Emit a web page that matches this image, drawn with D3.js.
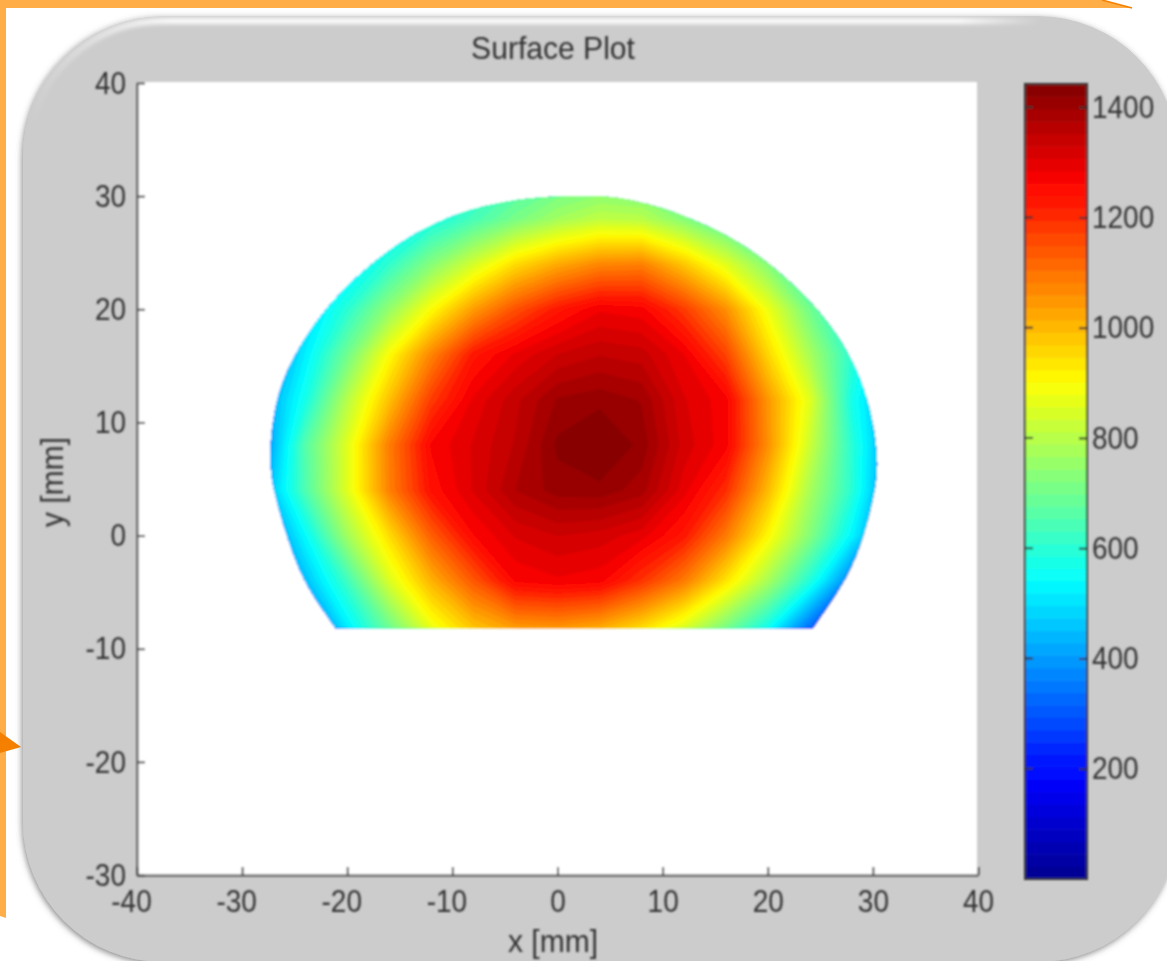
<!DOCTYPE html>
<html>
<head>
<meta charset="utf-8">
<script src="https://d3js.org/d3.v7.min.js"></script>
<style>
body { margin: 0; background: #fff; }
svg { display: block; }
text { font-family: "Liberation Sans", Arial, sans-serif; fill: #333; transform-box: fill-box; }
.tick text { font-size: 32px; transform: scaleX(.875); }
.x-axis text { transform-origin: center; }
.y-axis text { transform-origin: right center; }
.bar-axis text { transform-origin: left center; }
.title { font-size: 32px; transform: scaleX(.94); transform-origin: center; }
</style>
</head>
<body>
<div id="chart"></div>
<script>
// values, 4 mm apart
var gridX = [-32,-28,-24,-20,-16,-12,-8,-4,0,4,8,12,16,20,24,28,32];
var gridY = [32,28,24,20,16,12,8,4,0,-4,-8,-12];
var gridValues = [
  200,250,300,350,420,500,560,620,660,680,670,620,560,480,400,320,250,
  250,300,360,430,500,570,640,710,770,810,800,730,650,560,470,380,300,
  280,350,420,500,610,730,840,950,1020,1070,1080,980,860,730,600,480,360,
  220,340,480,600,750,900,1040,1150,1230,1280,1270,1180,1060,880,700,560,420,
  200,350,520,700,900,1075,1230,1290,1330,1350,1340,1285,1170,960,780,600,450,
  200,400,570,800,990,1180,1290,1345,1400,1412,1395,1310,1270,1050,860,570,400,
  150,370,660,860,1085,1265,1310,1355,1425,1450,1412,1320,1270,1060,830,600,380,
  150,420,650,860,1080,1245,1310,1375,1408,1412,1385,1295,1200,1000,780,600,350,
  150,350,540,770,950,1130,1260,1310,1330,1320,1295,1230,1090,910,730,530,320,
  80,200,450,630,850,1010,1140,1265,1280,1270,1190,1090,940,780,590,350,200,
  50,150,300,520,700,880,990,1050,1060,1030,960,860,720,570,340,200,100,
  20,80,150,300,480,650,760,820,830,800,740,650,500,350,180,100,50
];
// outline of the measured area in mm, the flat bottom closes the path
var outlineX = [-21.1,-24.1,-26.4,-27.3,-26.6,-24.5,-20.7,-14.9,-9.2,-3.5,1.5,6.1,11.9,17.6,23.3,27.1,29.4,30.4,29.7,27.8,24.3];
var outlineY = [-8.2,-3.9,2.0,6.4,12.2,16.7,21.4,25.9,28.5,29.7,30.0,29.8,28.3,25.7,21.4,17.0,12.2,6.4,2.0,-3.1,-8.2];

var xTicks = [-40,-30,-20,-10,0,10,20,30,40];
var yTicks = [-30,-20,-10,0,10,20,30,40];
var barTicks = [200,400,600,800,1000,1200,1400];
var barMax = 1442;
var bandCount = 64;
var jetStops = [0, 1/8, 3/8, 5/8, 7/8, 1];
var jetColors = ["#00008f","#0000ff","#00ffff","#ffff00","#ff0000","#800000"];

var width = 1167, height = 961;

var svg = d3.select("#chart").append("svg")
    .attr("width", width)
    .attr("height", height);

var defs = svg.append("defs");
defs.append("filter").attr("id", "soft").append("feGaussianBlur").attr("stdDeviation", 0.8);
defs.append("filter").attr("id", "glow")
    .attr("filterUnits", "userSpaceOnUse")
    .attr("x", 0).attr("y", 0).attr("width", width).attr("height", 200)
  .append("feGaussianBlur").attr("stdDeviation", 2);
var shadow = defs.append("filter").attr("id", "shadow")
    .attr("x", "-5%").attr("y", "-5%").attr("width", "110%").attr("height", "110%");
shadow.append("feDropShadow")
    .attr("dx", -1).attr("dy", 2).attr("stdDeviation", 3)
    .attr("flood-color", "#555").attr("flood-opacity", 0.7);

// sheen fades out round the corner and at the far end
var sheen = defs.append("linearGradient").attr("id", "sheen")
    .attr("gradientUnits", "userSpaceOnUse")
    .attr("x1", 30).attr("y1", 0).attr("x2", 1040).attr("y2", 0);
sheen.append("stop").attr("offset", 0).attr("stop-color", "#fff").attr("stop-opacity", 0);
sheen.append("stop").attr("offset", 0.14).attr("stop-color", "#fff").attr("stop-opacity", 0.95);
sheen.append("stop").attr("offset", 0.92).attr("stop-color", "#fff").attr("stop-opacity", 0.95);
sheen.append("stop").attr("offset", 1).attr("stop-color", "#fff").attr("stop-opacity", 0);

// orange slide decoration behind the panel
svg.append("path").attr("d", "M0,0L6,0L6,918L0,916Z").attr("fill", "#ffad47");
svg.append("path").attr("d", "M0,0L1102,0L1132,8L0,8Z").attr("fill", "#ffad47");
svg.append("path").attr("d", "M1102,0L1132,8").attr("fill", "none").attr("stroke", "#f58000").attr("stroke-width", 1.5);
svg.append("path").attr("d", "M0,732L21,747L0,753Z").attr("fill", "#f58000");

// grey rounded panel
svg.append("rect")
    .attr("x", 23).attr("y", 16)
    .attr("width", 1155).attr("height", 946)
    .attr("rx", 140).attr("ry", 140)
    .attr("fill", "#cccccc")
    .attr("filter", "url(#shadow)");

// white sheen along the top left
svg.append("path")
    .attr("d", "M33,119A135,135 0 0 1 163,21L1040,21")
    .attr("fill", "none").attr("stroke", "url(#sheen)").attr("stroke-width", 6)
    .attr("filter", "url(#glow)");

var chart = svg.append("g").attr("filter", "url(#soft)");

chart.append("rect")
    .attr("x", 138).attr("y", 82)
    .attr("width", 839).attr("height", 793)
    .attr("fill", "#fff");

var x = d3.scaleLinear().domain([-40, 40]).range([137, 978]);
var y = d3.scaleLinear().domain([-30, 40]).range([875, 83]);
var barY = d3.scaleLinear().domain([0, barMax]).range([879, 84]);

var jet = d3.scaleLinear()
    .domain(jetStops.map(function(d) { return d * barMax; }))
    .range(jetColors)
    .clamp(true);

var bandWidth = barMax / bandCount;
var bands = d3.range(bandCount).map(function(i) { return i * bandWidth; });

// surface
var clipLine = d3.line()
    .x(function(d, i) { return x(outlineX[i]); })
    .y(function(d, i) { return y(outlineY[i]); })
    .curve(d3.curveCatmullRom);

defs.append("clipPath").attr("id", "outline")
  .append("path")
    .attr("d", clipLine(outlineX) + "Z");

var contours = d3.contours()
    .size([gridX.length, gridY.length])
    .smooth(true)
    .thresholds(bands)(gridValues);

// contours come back in grid cells, push them through the mm scales
var gridToPx = d3.geoTransform({
  point: function(cx, cy) {
    this.stream.point(x(gridX[0] + (cx - 0.5) * 4), y(gridY[0] - (cy - 0.5) * 4));
  }
});
var contourPath = d3.geoPath(gridToPx);

chart.append("g")
    .attr("clip-path", "url(#outline)")
  .selectAll("path")
  .data(contours)
  .enter().append("path")
    .attr("d", contourPath)
    .attr("fill", function(d) { return jet(d.value + bandWidth / 2); });

// axes
var xAxis = chart.append("g")
    .attr("class", "x-axis")
    .attr("transform", "translate(0,875)")
    .call(d3.axisBottom(x).tickValues(xTicks).tickSize(-8).tickPadding(14).tickSizeOuter(0).tickFormat(String));
var yAxis = chart.append("g")
    .attr("class", "y-axis")
    .attr("transform", "translate(137,0)")
    .call(d3.axisLeft(y).tickValues(yTicks).tickSize(-8).tickPadding(11).tickSizeOuter(0).tickFormat(String));

[xAxis, yAxis].forEach(function(a) {
  a.selectAll("path, line").attr("stroke", "#444").attr("stroke-width", 2);
  a.selectAll("text").attr("fill", "#333");
});
xAxis.selectAll("text").attr("dx", function(d) { return d < 0 ? -6 : 0; });

// colour bar
chart.append("g").selectAll("rect")
  .data(bands)
  .enter().append("rect")
    .attr("x", 1025)
    .attr("width", 62)
    .attr("y", function(d) { return barY(d + bandWidth); })
    .attr("height", function(d) { return barY(d) - barY(d + bandWidth) + 0.5; })
    .attr("fill", function(d) { return jet(d + bandWidth / 2); });

chart.append("rect")
    .attr("x", 1025).attr("y", 84)
    .attr("width", 62).attr("height", 795)
    .attr("fill", "none").attr("stroke", "#333").attr("stroke-width", 2);

var barAxis = chart.append("g")
    .attr("class", "bar-axis")
    .attr("transform", "translate(1087,0)")
    .call(d3.axisRight(barY).tickValues(barTicks).tickSize(-8).tickPadding(5).tickSizeOuter(0).tickFormat(String));
barAxis.select(".domain").remove();
barAxis.selectAll("line").attr("stroke", "#333").attr("stroke-width", 2);
barAxis.selectAll("text").attr("fill", "#333");

chart.append("g").selectAll("line")
  .data(barTicks)
  .enter().append("line")
    .attr("x1", 1025).attr("x2", 1033)
    .attr("y1", function(d) { return barY(d); })
    .attr("y2", function(d) { return barY(d); })
    .attr("stroke", "#333").attr("stroke-width", 2);

// titles
chart.append("text").attr("class", "title").attr("x", 553).attr("y", 59)
    .attr("text-anchor", "middle").text("Surface Plot");
chart.append("text").attr("class", "title").attr("x", 553).attr("y", 952)
    .attr("text-anchor", "middle").text("x [mm]");
chart.append("g")
    .attr("transform", "translate(63,482) rotate(-90)")
  .append("text").attr("class", "title")
    .attr("text-anchor", "middle").text("y [mm]");
</script>
</body>
</html>
